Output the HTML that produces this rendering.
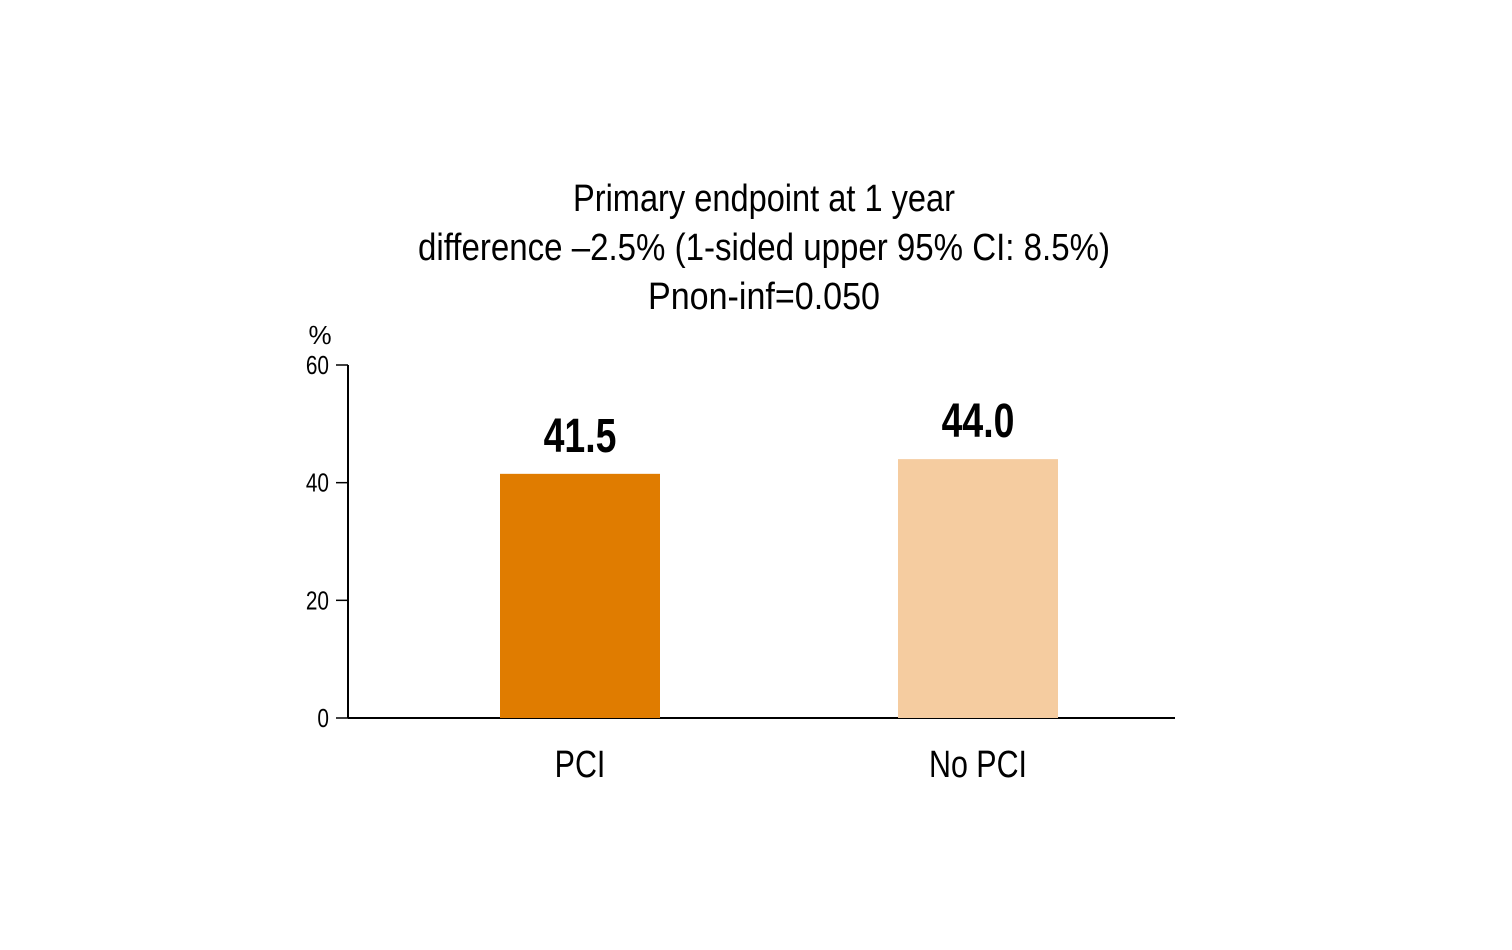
<!DOCTYPE html>
<html><head><meta charset="utf-8"><style>
html,body{margin:0;padding:0;background:#fff;}
svg text{font-family:"Liberation Sans Narrow","Liberation Sans",sans-serif;fill:#000;}
</style></head><body>
<svg id="chart" width="1512" height="945" xmlns="http://www.w3.org/2000/svg">
<g>
<text x="764" y="211" font-size="38" text-anchor="middle" textLength="382" lengthAdjust="spacingAndGlyphs">Primary endpoint at 1 year</text>
<text x="764" y="260" font-size="38" text-anchor="middle" textLength="692" lengthAdjust="spacingAndGlyphs">difference –2.5% (1-sided upper 95% CI: 8.5%)</text>
<text x="764" y="309" font-size="38" text-anchor="middle" textLength="232" lengthAdjust="spacingAndGlyphs">Pnon-inf=0.050</text>
</g>
<text x="320" y="344" font-size="26" text-anchor="middle">%</text>
<g id="axes"></g>
<g id="bars"></g>
</svg>
<script>
const categories = ["PCI", "No PCI"];
const values = [41.5, 44.0];
const valueLabels = ["41.5", "44.0"];
const colors = ["#e07c00", "#f5cca0"];
const yTicks = [0, 20, 40, 60];

const NS = "http://www.w3.org/2000/svg";
const y0 = 718, yTop = 365, yMax = 60;
function yScale(v){ return y0 - (v / yMax) * (y0 - yTop); }
const centers = [580, 978];
function xScale(i){ return centers[i]; }
const barW = 160;

function mk(tag, attrs, parent){
  const el = document.createElementNS(NS, tag);
  for (const k in attrs) el.setAttribute(k, attrs[k]);
  parent.appendChild(el);
  return el;
}
const axes = document.getElementById('axes');
const bars = document.getElementById('bars');

const yAxis = mk('line', {x1:348, y1:yTop, x2:348, y2:y0, stroke:'#000', 'stroke-width':2}, axes);



yTicks.forEach(t => {
  const y = yScale(t);
  const tk = mk('line', {x1:336, y1:y, x2:348, y2:y, stroke:'#000', 'stroke-width':1.5}, axes);
  
  
  const lb = mk('text', {transform:`translate(329,${y+9}) scale(0.8,1)`, 'font-size':26, 'text-anchor':'end'}, axes);
  lb.textContent = String(t);
  
  
});

categories.forEach((c, i) => {
  const cx = xScale(i);
  const top = yScale(values[i]);
  const r = mk('rect', {x:cx - barW/2, y:top, width:barW, height:y0 - top, fill:colors[i]}, bars);
  
  
  const v = mk('text', {transform:`translate(${cx},${top-22}) scale(0.78,1)`, 'font-size':48, 'font-weight':'bold', 'text-anchor':'middle'}, bars);
  v.textContent = valueLabels[i];
  
  
  const cl = mk('text', {transform:`translate(${cx},777) scale(0.8,1)`, 'font-size':38, 'text-anchor':'middle'}, bars);
  cl.textContent = c;
  
  
});

const xAxis = mk('line', {x1:348, y1:y0, x2:1175, y2:y0, stroke:'#000', 'stroke-width':2}, axes);


</script>
</body></html>
